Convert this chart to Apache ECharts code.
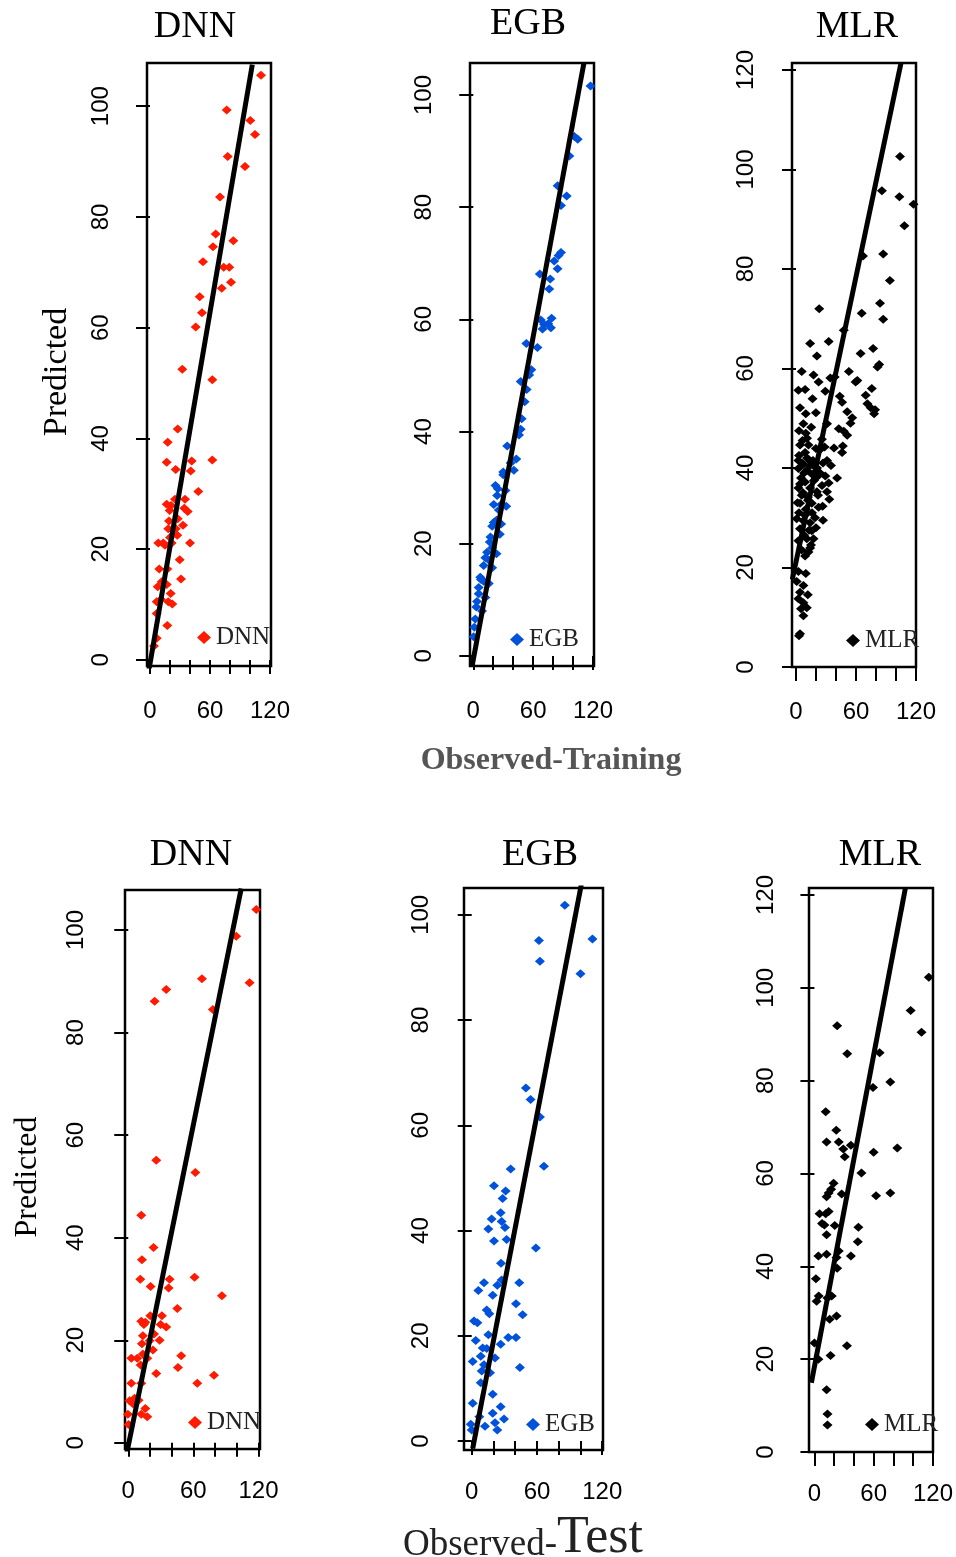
<!DOCTYPE html>
<html>
<head>
<meta charset="utf-8">
<script src="https://cdn.jsdelivr.net/npm/echarts@6/dist/echarts.min.js"></script>
<style>
  html, body { margin: 0; padding: 0; background: #fff; }
  #chart { width: 956px; height: 1557px; }
</style>
</head>
<body>
<div id="chart"></div>
<script>
// observed vs predicted
const dnnTrain = [
  [111, 105.6], [76.7, 99.3], [100.3, 97.4], [105, 94.9], [77.7, 90.9], [95, 89.1],
  [70, 83.6], [65.7, 76.9], [63, 74.6], [83.3, 75.7], [53, 71.9], [73.7, 70.9],
  [79.3, 70.9], [81, 68.2], [71.7, 67.1], [49.7, 65.6], [52, 62.7], [45.7, 60.1],
  [32.3, 52.5], [62.3, 50.6], [27.7, 41.7], [17.7, 39.3], [16.7, 35.7], [41.7, 35.9],
  [62.3, 36.1], [25.7, 34.4], [40.7, 34.1], [48.3, 30.4], [35, 29], [16.7, 28.1],
  [21, 27.9], [25, 29], [34.3, 27.4], [37.7, 26.8], [19.7, 27], [19, 25.1],
  [27.7, 25.5], [33, 24.3], [18.3, 23.7], [25.7, 23.7], [20, 22.1], [27.3, 22.5],
  [8.3, 21.1], [13.3, 21.1], [21.7, 21.1], [40, 21.1], [15, 20.7], [29.7, 18.1],
  [9.3, 16.4], [17.3, 16.4], [31, 14.6], [11.7, 14.1], [7.7, 13.2], [16.7, 13.6],
  [20.7, 12], [6.7, 10.5], [11, 10.9], [18.3, 10.5], [22.3, 10.1], [6.7, 8.4],
  [17.3, 6.2], [6.7, 3.9], [4, 2.5]
];
const egbTrain = [
  [117.5, 101.6], [101.3, 92.6], [104.7, 92.1], [96.3, 89.1], [84.5, 83.8], [93.6, 82],
  [87.9, 80.3], [87.9, 71.9], [85.5, 71.4], [81.1, 70.4], [84.5, 69], [66.7, 68.1],
  [77.1, 67.2], [76.1, 65.4], [67.7, 59.9], [71, 59.1], [75.1, 59.2], [78.5, 60.2],
  [69.4, 58.3], [77.8, 58.5], [53.2, 55.7], [64.3, 55], [58.2, 51], [56, 50.1],
  [47.5, 48.9], [53.5, 47.5], [51.5, 45.3], [48.5, 42.3], [47.5, 40.4], [45.8, 39.4],
  [34, 37.4], [43.1, 35.1], [40.7, 33.1], [30, 32.8], [22.2, 30.4], [32.3, 29.5],
  [27.9, 27], [20.5, 27], [33, 26.7], [23.2, 24.2], [18.9, 23.1], [26.6, 21.7],
  [17.2, 21.2], [13.8, 18.5], [23.2, 18.2], [10.4, 16.1], [18.9, 15.7], [7.7, 13.6],
  [15.5, 12.9], [5.4, 11.1], [12.1, 10.4], [3, 8.7], [8.8, 8], [2, 6.6],
  [1, 5.1], [0.3, 3.4], [23.9, 28.6], [30, 32.3], [37.4, 34.4], [25.6, 26],
  [20.5, 23.8], [16.5, 20.3], [12.1, 17.5], [7, 14], [5.4, 12.2], [3.7, 9.7],
  [10.4, 13.3], [15.5, 17.1], [18.9, 19.3], [27.9, 23.5], [24.6, 29.8]
];
const mlrTrain = [
  [104, 102.6], [85.9, 95.7], [103.4, 94.5], [117.5, 93], [108.4, 88.7], [67, 82.6],
  [87.2, 83], [93.9, 77.7], [23.2, 72], [65.7, 71.1], [84, 73.1], [87.2, 69.9],
  [47.8, 67.7], [14.1, 65], [32.7, 65.4], [20.9, 62.5], [64.6, 63], [77.1, 64],
  [83.2, 60.8], [81.5, 60.3], [5.7, 59.4], [17.5, 58.7], [22.6, 57.3], [34.3, 58.1],
  [38.7, 58.3], [52.9, 59.4], [59.6, 57.3], [61.3, 57.6], [2.4, 55.6], [9.1, 55.8],
  [29.3, 55.4], [43.8, 54.4], [75.8, 56], [16.5, 53.9], [46.1, 53.2], [69.7, 54.6],
  [71.4, 52.9], [74.7, 52.1], [4, 52.1], [9.8, 50.9], [19.9, 51.1], [51.2, 51.3],
  [78.1, 50.9], [79.1, 51.7], [56.2, 50.1], [7.4, 48.9], [15.2, 48.2], [31, 48.9],
  [54.5, 49], [42.8, 47.9], [9.8, 47], [25.9, 45.8], [47.8, 47.4], [51.2, 46.6],
  [12.5, 44.6], [19.9, 43.9], [46.8, 44.4], [4, 44.6], [9.1, 43.1], [2.4, 41.5],
  [46.1, 43.1], [31, 41.5], [7.4, 40.7], [12.5, 41.7], [28.6, 44.2], [18.5, 40.3],
  [24.2, 43.7], [2.4, 39.9], [10.8, 39.5], [15.8, 38.8], [20.9, 38.2], [29.3, 38.4],
  [41.1, 38], [5, 38], [9.1, 37.2], [32.7, 37], [2.4, 36], [14.1, 36],
  [20.9, 35.2], [31, 35.2], [5.7, 34.5], [11.8, 34.1], [33.3, 33.7], [4, 32.9],
  [15.8, 32.9], [22.6, 32.1], [9.8, 31.7], [26.6, 32.3], [0.7, 29.8], [7.4, 29.4],
  [14.1, 29], [4, 27.8], [15.8, 27.4], [2.4, 25.4], [10.8, 25.8], [17.5, 25.8],
  [5.7, 23.5], [14.1, 23.9], [9.1, 22.3], [12.5, 23.1], [2.4, 19.2], [9.8, 18.8],
  [0.7, 17.2], [7.4, 16.4], [4, 15], [11.8, 14.5], [2.4, 13.7], [7.4, 12.9],
  [10.8, 11.9], [5, 11.7], [7.4, 10.3], [4, 6.7], [3, 6.3],
  [3, 42.5], [6, 41], [8, 39], [11, 42], [14, 40.5], [17, 41.5],
  [21, 40], [4, 36.8], [7, 35], [12, 33.5], [16, 31], [19, 30],
  [22, 34.5], [26, 36.5], [1.5, 33], [9, 30.5], [13, 27.5], [18, 37.5],
  [6.5, 45.5], [3, 47.5], [11, 46], [24, 39], [27, 41], [35, 40.5],
  [38, 44], [27, 29.5], [20, 28], [3, 31], [8, 26.5], [15, 24.5]
];
const dnnTest = [
  [118, 104], [99.5, 98.8], [67.9, 90.5], [111.8, 89.7], [35, 88.4], [24.3, 86.1],
  [78, 84.5], [25.8, 55.1], [61.8, 52.7], [12, 44.4], [23.3, 38.1], [12.6, 35.7],
  [11.1, 31.9], [38.1, 31.9], [61.1, 32.3], [20.6, 30.5], [37.2, 30.2], [86.3, 28.7],
  [45.2, 26.2], [20.3, 24.8], [31, 24.8], [12, 23.7], [14.4, 23.1], [15.7, 23.5],
  [29.8, 23.1], [35, 22.6], [13.5, 20.9], [23.7, 21.2], [19.7, 19.9], [28.9, 20],
  [12.6, 19.3], [22.7, 18.1], [13.5, 17.3], [2.8, 16.5], [8.3, 16.5], [17.5, 16.5],
  [48.8, 17], [11.4, 15.2], [45.8, 14.7], [25.8, 13.5], [79, 13.2], [2.8, 11.6],
  [12, 11.6], [63.6, 11.6], [5.8, 8.7], [1.2, 8.2], [9.5, 8.3], [15.7, 6.7],
  [-0.3, 5.6], [12, 5.6], [17.5, 5.1], [4.3, 7.6], [0.3, 3.6]
];
const egbTest = [
  [85.6, 101.8], [61.8, 95.1], [111, 95.4], [62.7, 91.2], [100, 88.8], [49.8, 67.1],
  [54.1, 64.9], [62.7, 61.6], [35.8, 51.7], [66.4, 52.2], [20.5, 48.5], [31.2, 47.5],
  [28.4, 46.1], [26.6, 43.4], [18.3, 42.2], [27.5, 41.7], [30.6, 40.6], [15.3, 40.3],
  [20.5, 38], [32.1, 38.3], [59, 36.7], [26.9, 33.8], [11.3, 30.1], [6.1, 28.6],
  [23.5, 29.6], [43.7, 30.1], [19.3, 27.7], [27.5, 30.6], [40.7, 26.1], [13.8, 24.9],
  [16.2, 24.2], [46.8, 24], [2.1, 22.8], [5.2, 22.5], [15.3, 20.2], [3.7, 19.1],
  [26.6, 18.4], [33.6, 19.7], [40.7, 19.7], [10.1, 17.7], [13.8, 17.6], [8.3, 16.1],
  [21.4, 15.8], [0.9, 15.1], [11.3, 14.5], [9.2, 13.3], [16.8, 13], [44.3, 14],
  [8.3, 11.1], [19.3, 8.9], [0.9, 7.2], [26.6, 6.5], [19.3, 5.3], [29.7, 4.2],
  [-0.9, 3.2], [12.2, 2.8], [21.4, 3.5], [23.5, 2.1], [0, 2.1], [7, 4.6]
];
const mlrTest = [
  [115.8, 102.3], [97.4, 95.1], [108.4, 90.4], [23, 91.8], [33.2, 85.8], [66, 86],
  [59.3, 78.5], [76.8, 79.7], [11.4, 73.3], [22.1, 69.3], [12.3, 66.8], [24.6, 66.8],
  [29.2, 65.3], [36.9, 66.1], [30.7, 63.6], [59.9, 64.6], [83.9, 65.5], [47.6, 60.1],
  [19.4, 57.9], [16.9, 56.6], [14.4, 55.8], [12.3, 55], [27.6, 55.6], [62.4, 55.2],
  [76.8, 55.8], [5.2, 51.3], [11.4, 51.3], [14.4, 51.8], [7.7, 49.2], [10.1, 48.9],
  [20.6, 48.8], [44.5, 48.4], [12.3, 46.8], [43.9, 45.3], [4, 42.2], [12.3, 42.6],
  [24.6, 43.3], [36.9, 42.2], [22.4, 41.9], [23, 39.6], [1.5, 37.3], [4.3, 33.6],
  [2.2, 32.5], [13.2, 33.2], [17.5, 33.6], [15.4, 28.6], [22.4, 29.3], [0, 23.5],
  [4, 20], [16.3, 20.8], [32.9, 22.9], [12.3, 13.4], [13.2, 8.2], [13.2, 5.8]
];

// fitted lines, two end points each (clipped by the plot box)
const dnnTrainFit = [[-1.7, -2.5], [102.3, 107.5]];
const egbTrainFit = [[-1.3, -1.9], [110.8, 105.6]];
const mlrTrainFit = [[-3.7, 17.6], [105, 121.4]];
const dnnTestFit = [[-1.8, -2.5], [104.1, 108.1]];
const egbTestFit = [[0.9, -1.4], [100.9, 105.9]];
const mlrTestFit = [[-3.1, 14.9], [92.2, 121.6]];

const xTicks = [0, 20, 40, 60, 80, 100, 120];
const xLabels = [0, 60, 120];
const yTicks100 = [0, 20, 40, 60, 80, 100];
const yTicks120 = [0, 20, 40, 60, 80, 100, 120];

const colors = { DNN: '#ff1a00', EGB: '#0052dc', MLR: '#000000' };

// layout of the six boxes (pixels) and their axis ranges
const panels = [
  { name: 'DNN', data: dnnTrain, fit: dnnTrainFit, box: [147, 63, 124, 603], x: [-3, 121], y: [-1.1, 107.8], yTicks: yTicks100, ym: 34, xm: 33, leg: [197, 625] },
  { name: 'EGB', data: egbTrain, fit: egbTrainFit, box: [470, 63, 124, 603], x: [-3.3, 121], y: [-1.8, 105.7], yTicks: yTicks100, ym: 34, xm: 33, leg: [510, 627] },
  { name: 'MLR', data: mlrTrain, fit: mlrTrainFit, box: [792, 63, 124, 604], x: [-4, 120], y: [0, 121.4], yTicks: yTicks120, ym: 34, xm: 33, leg: [846, 628] },
  { name: 'DNN', data: dnnTest, fit: dnnTestFit, box: [125, 890, 135, 559], x: [-3, 121.4], y: [-1.2, 107.8], yTicks: yTicks100, ym: 37, xm: 30, leg: [188, 1410] },
  { name: 'EGB', data: egbTest, fit: egbTestFit, box: [464, 888, 139, 562], x: [-7.1, 120.7], y: [-1.7, 105.1], yTicks: yTicks100, ym: 31, xm: 30, leg: [526, 1412] },
  { name: 'MLR', data: mlrTest, fit: mlrTestFit, box: [809, 888, 135, 564], x: [-5.5, 120], y: [0, 121.5], yTicks: yTicks120, ym: 31, xm: 30, leg: [865, 1412] }
];

const sans = '"Liberation Sans", Arial, sans-serif';
const serif = '"Liberation Serif", "Times New Roman", serif';

const chart = echarts.init(document.getElementById('chart'));

const grid = panels.map(p => ({
  left: p.box[0], top: p.box[1], width: p.box[2], height: p.box[3],
  show: true, borderColor: '#000', borderWidth: 2.5, backgroundColor: '#fff',
  containLabel: false
}));

const xAxis = panels.map((p, i) => ({
  type: 'value', gridIndex: i, min: p.x[0], max: p.x[1],
  axisLine: { show: false },
  splitLine: { show: false },
  axisTick: { show: true, length: 14, customValues: xTicks, lineStyle: { color: '#000', width: 2 } },
  axisLabel: { customValues: xLabels, margin: p.xm, color: '#000', fontSize: 24, fontFamily: sans }
}));

const yAxis = panels.map((p, i) => ({
  type: 'value', gridIndex: i, min: p.y[0], max: p.y[1],
  axisLine: { show: false },
  splitLine: { show: false },
  axisTick: { show: true, length: 14, customValues: p.yTicks, lineStyle: { color: '#000', width: 2 } },
  axisLabel: { customValues: p.yTicks, rotate: 90, margin: p.ym, color: '#000', fontSize: 24, fontFamily: sans }
}));

const series = [];
panels.forEach((p, i) => {
  series.push({
    name: p.name, type: 'scatter', xAxisIndex: i, yAxisIndex: i,
    data: p.data, symbol: 'diamond', symbolSize: [10, 9],
    itemStyle: { color: colors[p.name], opacity: 1 }, z: 2
  });
});
panels.forEach((p, i) => {
  series.push({
    name: 'fit' + i, type: 'line', xAxisIndex: i, yAxisIndex: i,
    data: p.fit, showSymbol: false, symbol: 'none', clip: true,
    lineStyle: { color: '#000', width: 5 }, z: 3, silent: true
  });
});

const legend = panels.map(p => ({
  data: [p.name], left: p.leg[0], top: p.leg[1], padding: 0,
  icon: 'diamond', itemWidth: 14, itemHeight: 13,
  textStyle: { fontFamily: serif, fontSize: 25, color: '#222' }
}));

const titlePos = [[195, 27], [528, 24], [857, 27], [191, 855], [540, 855], [880, 855]];
const graphic = titlePos.map((t, i) => ({
  type: 'text', x: t[0], y: t[1],
  style: { text: panels[i].name, fontFamily: serif, fontSize: 38, fill: '#000', textAlign: 'center', textVerticalAlign: 'middle' }
}));
graphic.push(
  { type: 'text', x: 57, y: 372, rotation: Math.PI / 2,
    style: { text: 'Predicted', fontFamily: serif, fontSize: 34, fill: '#000', textAlign: 'center', textVerticalAlign: 'middle' } },
  { type: 'text', x: 28, y: 1177, rotation: Math.PI / 2,
    style: { text: 'Predicted', fontFamily: serif, fontSize: 32, fill: '#000', textAlign: 'center', textVerticalAlign: 'middle' } },
  { type: 'text', x: 551, y: 761,
    style: { text: 'Observed-Training', fontFamily: serif, fontWeight: 'bold', fontSize: 32, fill: '#555', textAlign: 'center', textVerticalAlign: 'middle' } },
  { type: 'text', x: 523, y: 1538,
    style: {
      text: '{a|Observed-}{b|Test}', textAlign: 'center', textVerticalAlign: 'middle',
      rich: {
        a: { fontFamily: serif, fontSize: 37, fill: '#222', color: '#222', verticalAlign: 'bottom' },
        b: { fontFamily: serif, fontSize: 52, fill: '#222', color: '#222', verticalAlign: 'bottom' }
      }
    } }
);

const option = {
  backgroundColor: '#fff',
  animation: false,
  grid: grid,
  xAxis: xAxis,
  yAxis: yAxis,
  legend: legend,
  series: series,
  graphic: graphic
};

chart.setOption(option);
</script>
</body>
</html>
